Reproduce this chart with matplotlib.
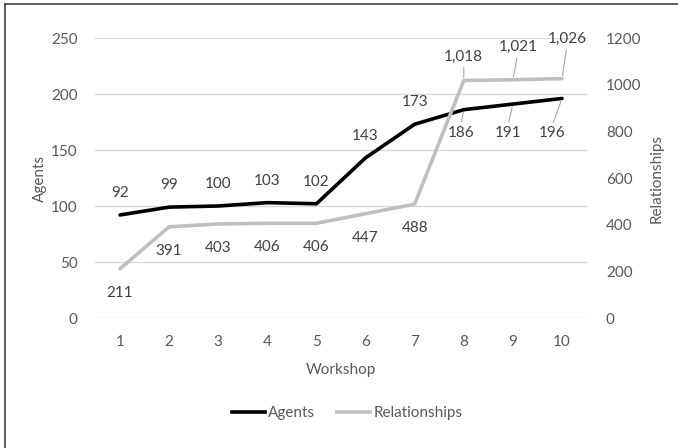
import matplotlib
matplotlib.use('Agg')
import matplotlib.pyplot as plt
from matplotlib.lines import Line2D


# =============================================================================
# DATA
# =============================================================================

workshops = [1, 2, 3, 4, 5, 6, 7, 8, 9, 10]
agents = [92, 99, 100, 103, 102, 143, 173, 186, 191, 196]
relationships = [211, 391, 403, 406, 406, 447, 488, 1018, 1021, 1026]

# label offsets in pixels (dx, dy), picked by eye
agents_off = [(0, 22)]*7+[(-3, -23), (-5, -29), (-10, -35)]
rel_off = [(0, -24)]*7+[(0, 24), (5, 33), (5, 40)]
agents_leader = [False]*7+[True]*3
rel_leader = [False]*7+[True]*3


# =============================================================================
# PLOT
# =============================================================================

plt.rcParams['font.family'] = ['Lato', 'DejaVu Sans']
txt = '#595959'
grid = '#d9d9d9'
c_ag = '#000000'
c_rel = '#bfbfbf'
fs = 11

W, H = 678, 448
fig = plt.figure(figsize=(W/100., H/100.), dpi=100)
ax = fig.add_axes([95.5/W, (H-318)/H, 491/W, 280/H])
ax2 = ax.twinx()

ax.plot(workshops, agents, color=c_ag, lw=2.6, solid_capstyle='round', zorder=3)
ax2.plot(workshops, relationships, color=c_rel, lw=2.6, solid_capstyle='round', zorder=3)

ax.set_xlim(0.5, 10.5)
ax.set_ylim(0, 250)
ax2.set_ylim(0, 1200)
ax.set_yticks(range(0, 251, 50))
ax2.set_yticks(range(0, 1201, 200))
ax.set_xticks(workshops)
ax.yaxis.grid(True, color=grid, lw=1.0)
ax.set_axisbelow(True)

for a in (ax, ax2):
    for s in a.spines.values():
        s.set_visible(False)
    a.tick_params(length=0, colors=txt, labelsize=fs)
ax.tick_params(axis='y', pad=13)
ax2.tick_params(axis='y', pad=14)
ax.tick_params(axis='x', pad=12)

ax.set_xlabel('Workshop', color=txt, fontsize=fs, labelpad=10)
ax.set_ylabel('Agents', color=txt, fontsize=fs, labelpad=3)
ax2.set_ylabel('Relationships', color=txt, fontsize=fs, labelpad=6)

# data labels
for i in range(len(workshops)):
    dx, dy = agents_off[i]
    arrow = None
    if agents_leader[i]:
        arrow = dict(arrowstyle='-', color='#a6a6a6', lw=0.8,
                     shrinkA=1, shrinkB=2, relpos=(0.5, 1.0))
    ax.annotate('{:,}'.format(agents[i]), (workshops[i], agents[i]),
                xytext=(dx, dy), textcoords='offset pixels',
                ha='center', va='center', color='#404040', fontsize=fs,
                arrowprops=arrow, zorder=5)

    dx, dy = rel_off[i]
    arrow = None
    if rel_leader[i]:
        arrow = dict(arrowstyle='-', color='#a6a6a6', lw=0.8,
                     shrinkA=1, shrinkB=2, relpos=(0.5, 0.0))
    ax2.annotate('{:,}'.format(relationships[i]), (workshops[i], relationships[i]),
                 xytext=(dx, dy), textcoords='offset pixels',
                 ha='center', va='center', color='#404040', fontsize=fs,
                 arrowprops=arrow, zorder=5)

# legend
handles = [Line2D([], [], color=c_ag, lw=2.6),
           Line2D([], [], color=c_rel, lw=2.6)]
fig.legend(handles, ['Agents', 'Relationships'], loc='center',
           bbox_to_anchor=(347/W, 1-413/H), ncol=2, frameon=False,
           fontsize=fs, labelcolor=txt, handlelength=2.2, handletextpad=0.2,
           columnspacing=1.4)

# chart border (left and top only visible in the picture)
fig.add_artist(Line2D([5/W, 5/W], [0, 1-4/H], transform=fig.transFigure,
                      color='#404040', lw=1.2))
fig.add_artist(Line2D([5/W, 1], [1-4/H, 1-4/H], transform=fig.transFigure,
                      color='#404040', lw=1.2))

fig.savefig('out.png', dpi=100)
